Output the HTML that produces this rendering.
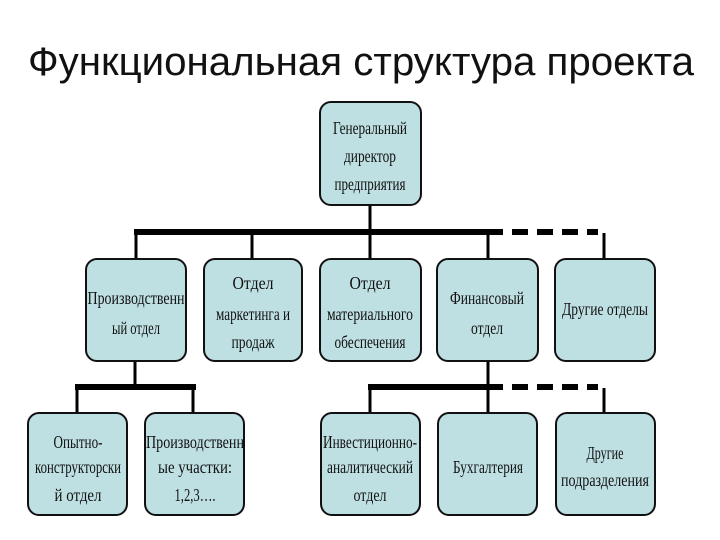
<!DOCTYPE html>
<html><head><meta charset="utf-8"><style>
html,body{margin:0;padding:0;background:#fff;}
svg{display:block;}
.t{font-family:"Liberation Serif",serif;font-size:18px;fill:#111;text-anchor:middle;}
.b{fill:#bfe0e2;stroke:#111;stroke-width:2;}
</style></head><body>
<svg width="720" height="540" viewBox="0 0 720 540" xmlns="http://www.w3.org/2000/svg">
<text x="28" y="75" font-family="Liberation Sans, sans-serif" font-size="40" fill="#111" textLength="666" lengthAdjust="spacingAndGlyphs">Функциональная структура проекта</text>
<g stroke="#000" fill="none">
<line x1="370" y1="205" x2="370" y2="259" stroke-width="3"/>
<line x1="134" y1="232" x2="503" y2="232" stroke-width="6"/>
<line x1="503" y1="232" x2="598" y2="232" stroke-width="6" stroke-dasharray="16,9" stroke-dashoffset="-9"/>
<line x1="136" y1="232" x2="136" y2="259" stroke-width="3"/>
<line x1="252" y1="232" x2="252" y2="259" stroke-width="3"/>
<line x1="488" y1="232" x2="488" y2="259" stroke-width="3"/>
<line x1="604" y1="233" x2="604" y2="259" stroke-width="3"/>
<line x1="135" y1="360" x2="135" y2="387" stroke-width="3"/>
<line x1="75" y1="387" x2="196" y2="387" stroke-width="6"/>
<line x1="77" y1="387" x2="77" y2="413" stroke-width="3"/>
<line x1="193" y1="387" x2="193" y2="413" stroke-width="3"/>
<line x1="488" y1="360" x2="488" y2="413" stroke-width="3"/>
<line x1="368" y1="387" x2="503" y2="387" stroke-width="6"/>
<line x1="503" y1="387" x2="598" y2="387" stroke-width="6" stroke-dasharray="16,9" stroke-dashoffset="-9"/>
<line x1="370" y1="387" x2="370" y2="413" stroke-width="3"/>
<line x1="604" y1="388" x2="604" y2="413" stroke-width="3"/>
</g>
<rect class="b" x="320" y="102" width="101" height="103" rx="11"/>
<rect class="b" x="86" y="259" width="100" height="102" rx="11"/>
<rect class="b" x="204" y="259" width="98" height="102" rx="11"/>
<rect class="b" x="320" y="259" width="101" height="102" rx="11"/>
<rect class="b" x="437" y="259" width="101" height="102" rx="11"/>
<rect class="b" x="555" y="259" width="100" height="102" rx="11"/>
<rect class="b" x="28" y="413" width="99" height="102" rx="11"/>
<rect class="b" x="145" y="413" width="99" height="102" rx="11"/>
<rect class="b" x="321" y="413" width="99" height="102" rx="11"/>
<rect class="b" x="438" y="413" width="99" height="102" rx="11"/>
<rect class="b" x="556" y="413" width="99" height="102" rx="11"/>
<text class="t" x="370" y="134" textLength="74" lengthAdjust="spacingAndGlyphs">Генеральный</text>
<text class="t" x="370" y="162" textLength="52" lengthAdjust="spacingAndGlyphs">директор</text>
<text class="t" x="370" y="190" textLength="71" lengthAdjust="spacingAndGlyphs">предприятия</text>
<text class="t" x="136" y="304" textLength="97" lengthAdjust="spacingAndGlyphs">Производственн</text>
<text class="t" x="136" y="334" textLength="48" lengthAdjust="spacingAndGlyphs">ый отдел</text>
<text class="t" x="253" y="289" textLength="41" lengthAdjust="spacingAndGlyphs">Отдел</text>
<text class="t" x="253" y="320" textLength="74" lengthAdjust="spacingAndGlyphs">маркетинга и</text>
<text class="t" x="253" y="348" textLength="43" lengthAdjust="spacingAndGlyphs">продаж</text>
<text class="t" x="370" y="289" textLength="41" lengthAdjust="spacingAndGlyphs">Отдел</text>
<text class="t" x="370" y="320" textLength="86" lengthAdjust="spacingAndGlyphs">материального</text>
<text class="t" x="370" y="348" textLength="71" lengthAdjust="spacingAndGlyphs">обеспечения</text>
<text class="t" x="487" y="304" textLength="74" lengthAdjust="spacingAndGlyphs">Финансовый</text>
<text class="t" x="487" y="334" textLength="32" lengthAdjust="spacingAndGlyphs">отдел</text>
<text class="t" x="605" y="315" textLength="86" lengthAdjust="spacingAndGlyphs">Другие отделы</text>
<text class="t" x="78" y="448" textLength="49" lengthAdjust="spacingAndGlyphs">Опытно-</text>
<text class="t" x="78" y="473" textLength="86" lengthAdjust="spacingAndGlyphs">конструкторски</text>
<text class="t" x="78" y="501" textLength="47" lengthAdjust="spacingAndGlyphs">й отдел</text>
<text class="t" x="195" y="448" textLength="98" lengthAdjust="spacingAndGlyphs">Производственн</text>
<text class="t" x="195" y="473" textLength="74" lengthAdjust="spacingAndGlyphs">ые участки:</text>
<text class="t" x="195" y="501" textLength="41" lengthAdjust="spacingAndGlyphs">1,2,3….</text>
<text class="t" x="370" y="448" textLength="94" lengthAdjust="spacingAndGlyphs">Инвестиционно-</text>
<text class="t" x="370" y="473" textLength="86" lengthAdjust="spacingAndGlyphs">аналитический</text>
<text class="t" x="370" y="501" textLength="33" lengthAdjust="spacingAndGlyphs">отдел</text>
<text class="t" x="488" y="473" textLength="70" lengthAdjust="spacingAndGlyphs">Бухгалтерия</text>
<text class="t" x="605" y="459" textLength="37" lengthAdjust="spacingAndGlyphs">Другие</text>
<text class="t" x="605" y="486" textLength="88" lengthAdjust="spacingAndGlyphs">подразделения</text>
</svg>
</body></html>
